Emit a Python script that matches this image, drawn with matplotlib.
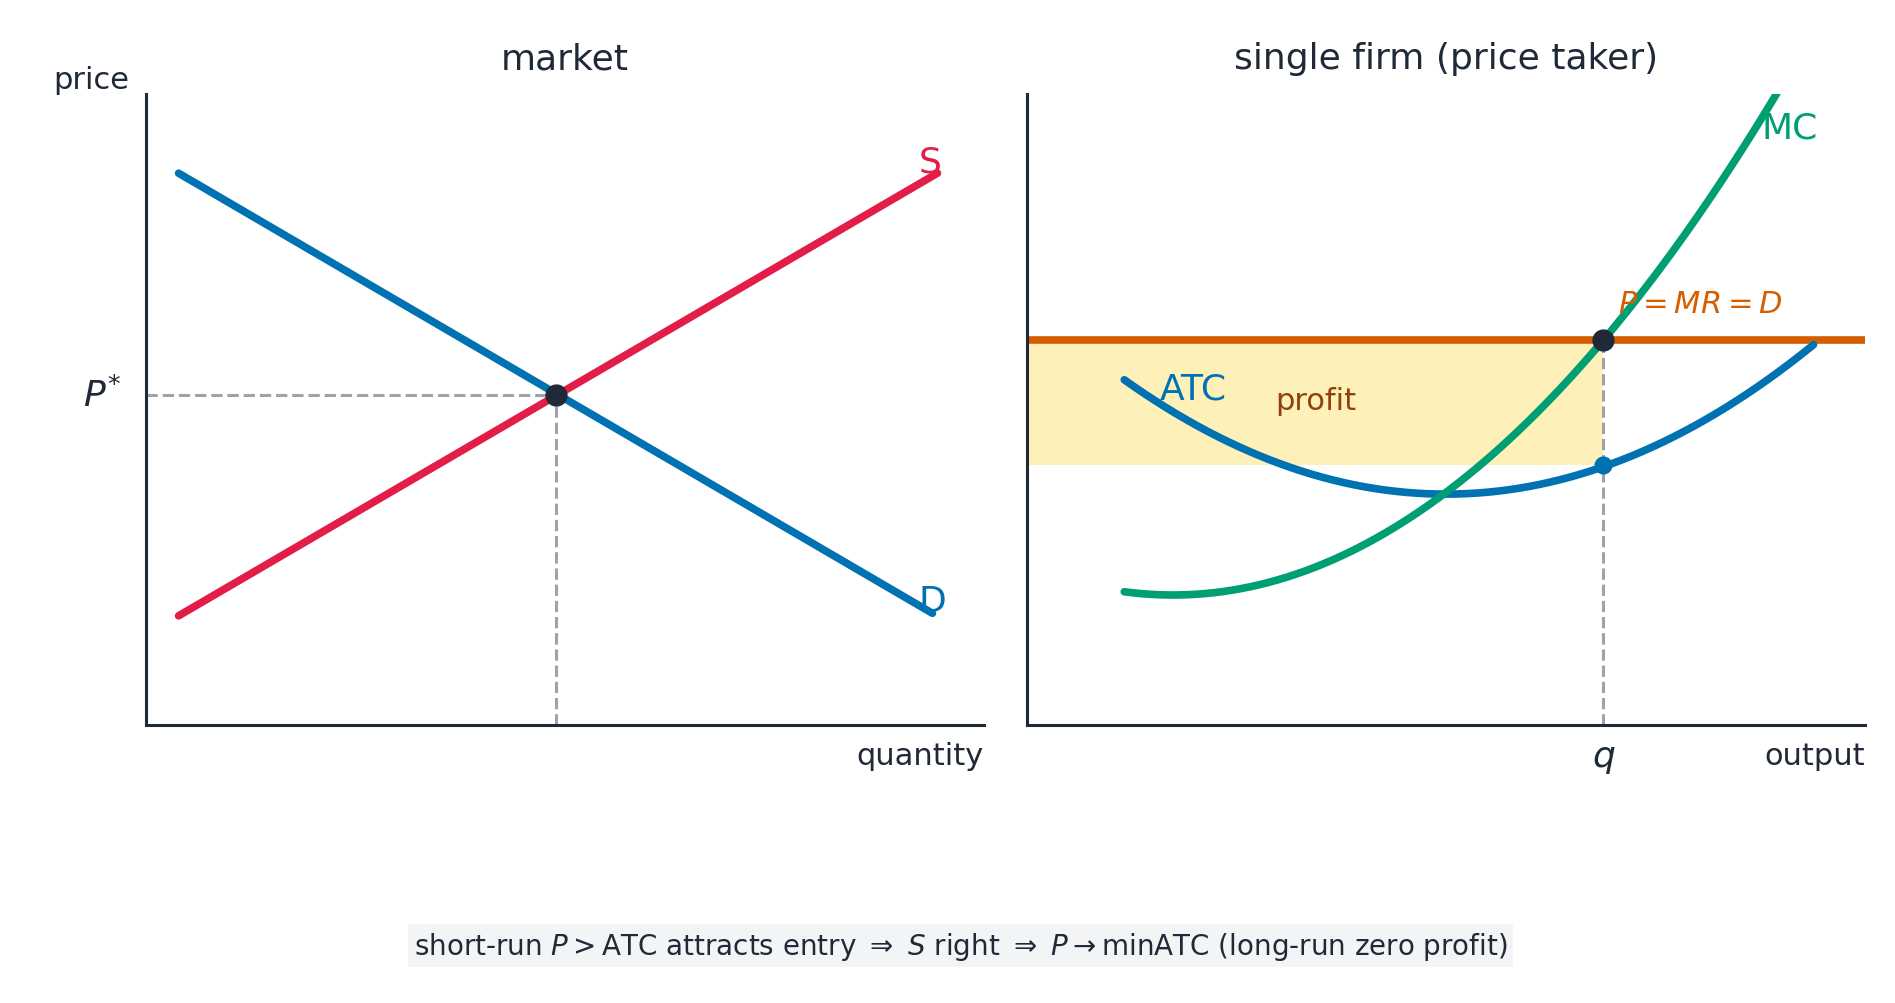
import numpy as np
import matplotlib
matplotlib.use("Agg")
import matplotlib.pyplot as plt

# data
S_x = [0.39, 9.45]; S_y = [1.73, 8.75]
D_x = [0.39, 9.39]; D_y = [8.75, 1.77]
P_star = 5.24; Q_star = 4.9
P_firm = 6.11; q_firm = 6.88; atc_q = 4.12
atc_min_x, atc_min_y, atc_a = 5.0, 3.66, 0.123
mc_min_x, mc_min_y, mc_b = 1.74, 2.06, 0.153

ink = "#1f2937"; red = "#e11d48"; blue = "#0072b2"; green = "#009e73"; orange = "#d55e00"
fig = plt.figure(figsize=(18.95, 10.04), dpi=100)
ax1 = fig.add_axes([0.077, 0.277, 0.442, 0.628])
ax2 = fig.add_axes([0.542, 0.277, 0.442, 0.628])
for ax in (ax1, ax2):
    ax.set_xlim(0, 10); ax.set_ylim(0, 10)
    ax.set_xticks([]); ax.set_yticks([])
    for s in ("top", "right"): ax.spines[s].set_visible(False)
    for s in ("left", "bottom"):
        ax.spines[s].set_color(ink); ax.spines[s].set_linewidth(2.2)

lw = 5.5
ax1.plot(S_x, S_y, color=red, lw=lw, solid_capstyle="round")
ax1.plot(D_x, D_y, color=blue, lw=lw, solid_capstyle="round")
ax1.plot([0, Q_star], [P_star, P_star], ls="--", color="#9ca3af", lw=2.2)
ax1.plot([Q_star, Q_star], [0, P_star], ls="--", color="#9ca3af", lw=2.2)
ax1.plot(Q_star, P_star, "o", color=ink, ms=15, zorder=5)
ax1.text(9.36, 8.94, "S", color=red, fontsize=26, ha="center", va="center")
ax1.text(9.39, 1.97, "D", color=blue, fontsize=26, ha="center", va="center")
ax1.text(-0.3, P_star, r"$P^{*}$", color=ink, fontsize=26, ha="right", va="center")
ax1.text(5, 10.3, "market", color=ink, fontsize=26, ha="center", va="bottom")
ax1.text(-0.2, 10.0, "price", color=ink, fontsize=22, ha="right", va="bottom")
ax1.text(10, -0.25, "quantity", color=ink, fontsize=22, ha="right", va="top")

ax2.fill_between([0, q_firm], atc_q, P_firm, color="#fdf0b8", lw=0, zorder=0)
ax2.axhline(P_firm, color=orange, lw=lw, zorder=2)
x = np.linspace(1.16, 9.39, 200)
ax2.plot(x, atc_min_y + atc_a * (x - atc_min_x) ** 2, color=blue, lw=lw, solid_capstyle="round", zorder=3)
xm = np.linspace(1.16, 9.2, 300)
ax2.plot(xm, mc_min_y + mc_b * (xm - mc_min_x) ** 2, color=green, lw=lw, solid_capstyle="round", zorder=3)
ax2.plot([q_firm, q_firm], [0, P_firm], ls="--", color="#9ca3af", lw=2.2, zorder=1)
ax2.plot(q_firm, P_firm, "o", color=ink, ms=15, zorder=5)
ax2.plot(q_firm, atc_q, "o", color=blue, ms=12, zorder=5)
ax2.text(9.1, 9.47, "MC", color=green, fontsize=26, ha="center", va="center")
ax2.text(1.99, 5.34, "ATC", color=blue, fontsize=26, ha="center", va="center")
ax2.text(3.45, 5.14, "profit", color="#92400e", fontsize=22, ha="center", va="center")
ax2.text(8.04, 6.69, r"$P = MR = D$", color=orange, fontsize=22, ha="center", va="center")
ax2.text(q_firm, -0.25, r"$q$", color=ink, fontsize=26, ha="center", va="top")
ax2.text(10, -0.25, "output", color=ink, fontsize=22, ha="right", va="top")
ax2.text(5, 10.3, "single firm (price taker)", color=ink, fontsize=26, ha="center", va="bottom")

fig.text(0.507, 0.057, r"short-run $P > $ATC attracts entry $\Rightarrow$ $S$ right $\Rightarrow$ $P \rightarrow$minATC (long-run zero profit)",
         color=ink, fontsize=20, ha="center", va="center",
         bbox=dict(facecolor="#f3f4f6", edgecolor="none", pad=4))
fig.savefig("out.png", dpi=100, facecolor="white")
